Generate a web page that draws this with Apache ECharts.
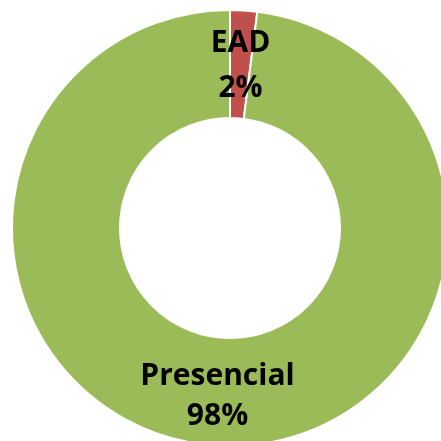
<!DOCTYPE html>
<html><head><meta charset="utf-8">
<script src="https://cdn.jsdelivr.net/npm/echarts@6/dist/echarts.min.js"></script>
<style>html,body{margin:0;padding:0;background:#fff}#c{width:441px;height:441px}</style>
</head><body><div id="c"></div>
<script>
const categories = ['EAD', 'Presencial'];
const values = [2, 98];
const colors = ['#C0504D', '#9BBB59'];
const lineHeights = [45, 40];
const labelOffsets = [[0, 5], [-2, 2]];

const chart = echarts.init(document.getElementById('c'), null, {renderer: 'canvas'});
chart.setOption({
  animation: false,
  series: [{
    type: 'pie',
    center: [230, 228],
    radius: [110, 218],
    startAngle: 90,
    clockwise: true,
    avoidLabelOverlap: false,
    itemStyle: {borderColor: '#fff', borderWidth: 2},
    label: {
      show: true,
      position: 'inside',
      formatter: p => p.name + '\n' + p.value + '%',
      fontFamily: 'Open Sans',
      fontWeight: 'bold',
      fontSize: 30,
      color: '#000'
    },
    labelLine: {show: false},
    data: categories.map((c, i) => ({
      name: c, value: values[i],
      itemStyle: {color: colors[i]},
      label: {lineHeight: lineHeights[i], offset: labelOffsets[i]}
    }))
  }]
});
</script></body></html>
